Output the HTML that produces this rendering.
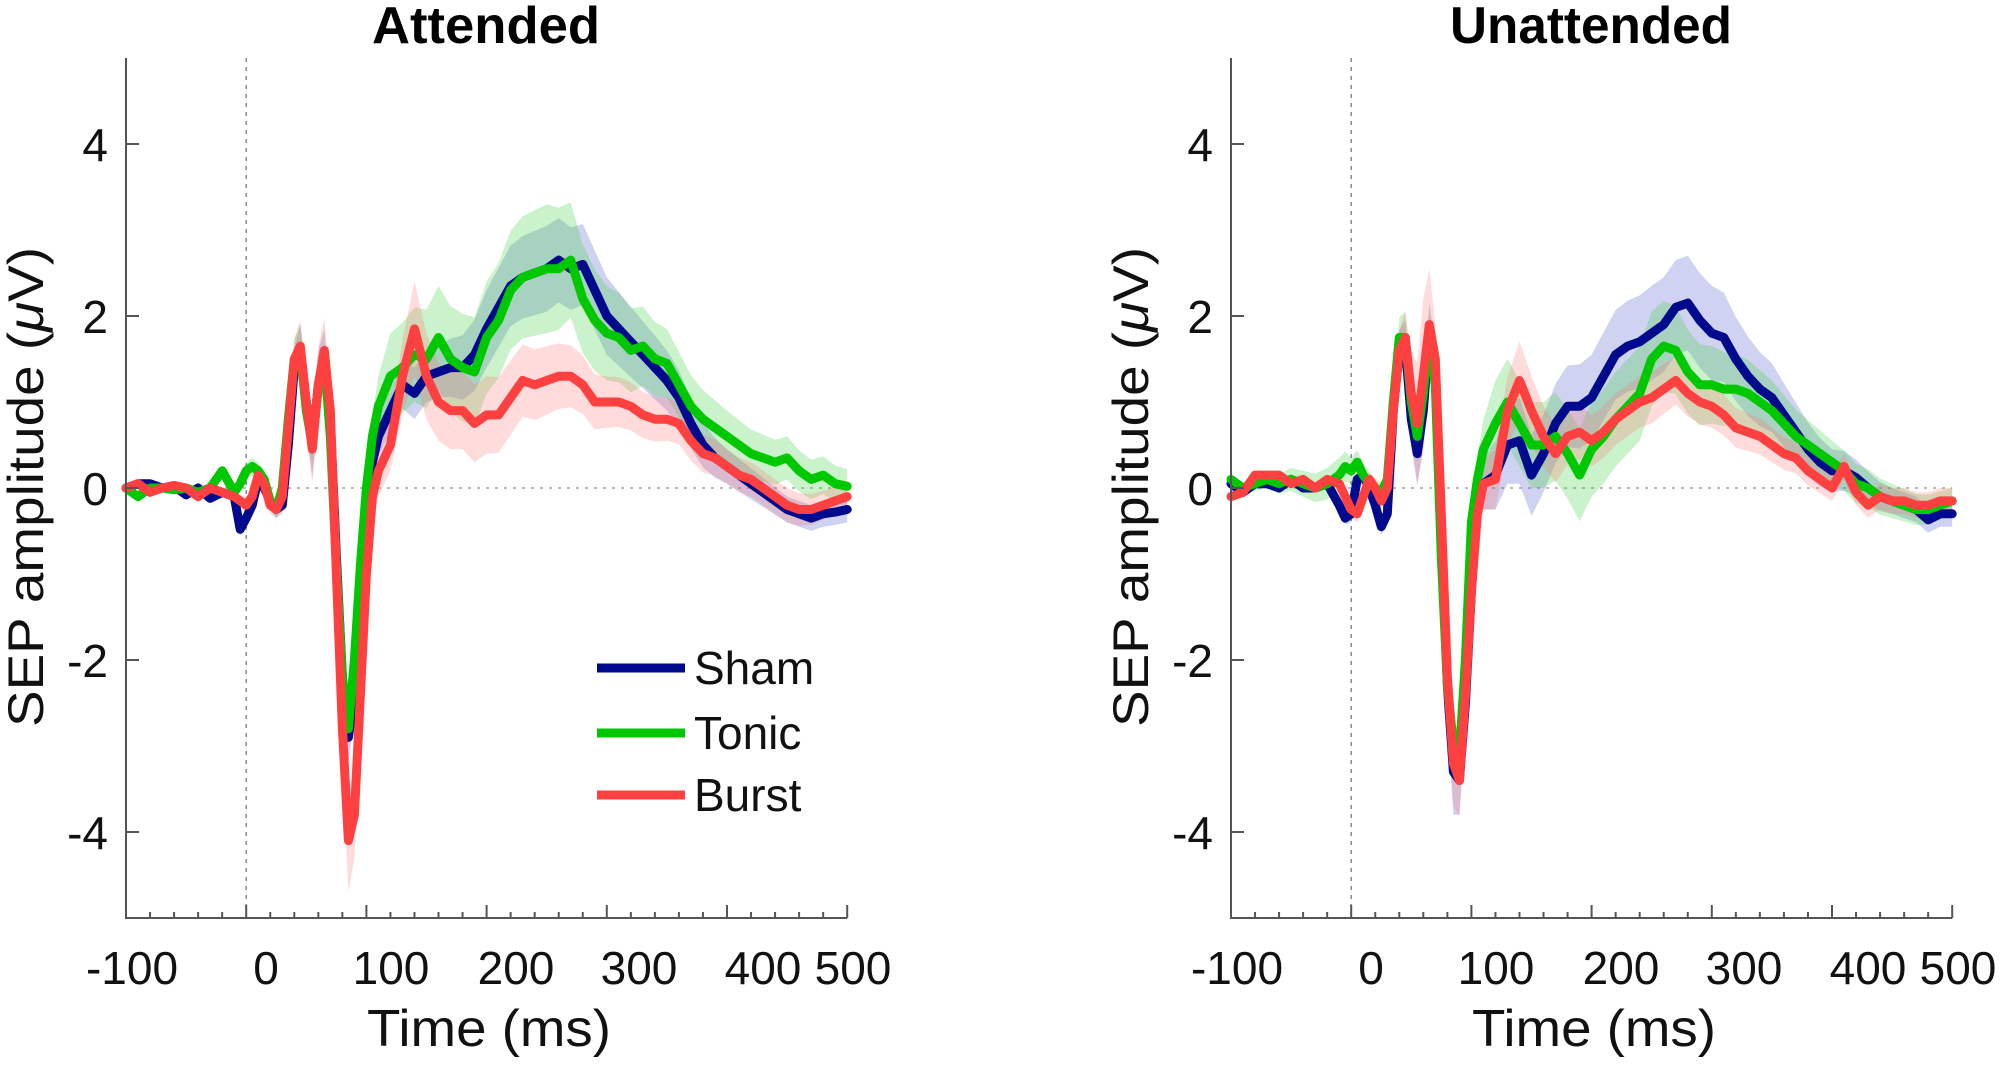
<!DOCTYPE html>
<html><head><meta charset="utf-8">
<style>
html,body{margin:0;padding:0;background:#fff;}
svg{display:block;font-family:"Liberation Sans",Arial,sans-serif;}
</style></head>
<body>
<svg id="fig" width="2008" height="1075" viewBox="0 0 2008 1075" xmlns="http://www.w3.org/2000/svg"></svg>
<script>
// ---------- DATA ----------
const times = [-100,-90,-80,-70,-60,-50,-40,-30,-20,-10,
  -5,0,5,10,15,20,25,30,35,40,45,50,55,60,65,70,75,80,85,90,95,100,105,110,
  120,130,140,150,160,170,180,190,200,210,220,230,240,250,260,270,280,290,300,310,
  320,330,340,350,360,370,380,390,400,410,420,430,440,450,460,470,480,490,500];
const xTickLabels = ["-100","0","100","200","300","400","500"];
const yTickValues = [4,2,0,-2,-4];
const seriesNames = ["Sham","Tonic","Burst"];

const attSham = [0,0.05,0.05,0,0.02,-0.08,0,-0.12,-0.05,-0.1,
  -0.48,-0.35,-0.2,0.1,0,-0.15,-0.25,-0.2,0.5,1.4,1.6,1.0,0.5,1.2,1.55,0.8,-0.8,-2.2,-2.9,-2.4,-1.2,-0.3,0.3,0.6,
  0.9,1.2,1.1,1.3,1.35,1.4,1.4,1.55,1.85,2.1,
  2.35,2.45,2.5,2.55,2.65,2.55,2.6,2.3,2.0,1.85,
  1.7,1.55,1.4,1.25,1.05,0.75,0.5,0.35,0.25,0.15,
  0.05,-0.05,-0.15,-0.25,-0.3,-0.35,-0.3,-0.28,-0.25];
const attTonic = [0,-0.1,0,0,-0.02,0,-0.05,0,0.2,-0.05,
  0.05,0.2,0.25,0.2,0.1,-0.15,-0.25,0,0.8,1.5,1.6,0.9,0.5,1.2,1.5,0.6,-0.9,-2.2,-2.8,-2.0,-0.9,0,0.6,0.95,
  1.3,1.4,1.55,1.5,1.75,1.5,1.4,1.35,1.75,1.95,
  2.3,2.45,2.5,2.55,2.55,2.65,2.2,1.95,1.8,1.75,
  1.6,1.65,1.5,1.45,1.2,0.95,0.8,0.7,0.6,0.5,
  0.4,0.35,0.3,0.35,0.2,0.1,0.15,0.05,0.02];
const attBurst = [0,0.05,-0.05,0,0.03,0,-0.1,0,-0.05,-0.1,
  -0.15,-0.2,-0.1,0.15,0.05,-0.2,-0.25,-0.1,0.7,1.5,1.65,1.0,0.45,1.2,1.6,0.9,-1.0,-2.8,-4.1,-3.8,-2.4,-1.0,-0.1,0.2,
  0.5,1.3,1.85,1.3,1.0,0.9,0.9,0.75,0.85,0.85,
  1.05,1.25,1.2,1.25,1.3,1.3,1.2,1.0,1.0,1.0,
  0.95,0.85,0.8,0.8,0.75,0.55,0.4,0.35,0.25,0.15,
  0.1,0,-0.1,-0.2,-0.25,-0.25,-0.2,-0.15,-0.1];

const unaSham = [0.05,-0.05,0.05,0.05,0,0.1,0,0,0.05,-0.2,
  -0.35,-0.3,0.1,0.15,0,-0.2,-0.45,-0.3,0.9,1.6,1.65,0.8,0.4,0.9,1.8,1.4,-0.5,-2.3,-3.3,-3.4,-2.5,-1.2,-0.2,0.05,
  0.15,0.5,0.55,0.15,0.4,0.75,0.95,0.95,1.05,1.3,
  1.55,1.65,1.7,1.8,1.9,2.1,2.15,1.95,1.8,1.75,
  1.5,1.3,1.15,1.05,0.85,0.65,0.45,0.3,0.2,0.2,
  0.12,0,-0.1,-0.15,-0.2,-0.25,-0.37,-0.3,-0.3];
const unaTonic = [0.1,0,0.05,0.1,0.05,0.1,0.05,0,0.05,0.15,
  0.25,0.2,0.3,0.15,0.05,0,-0.05,0.1,1.0,1.75,1.75,1.0,0.6,1.1,1.8,1.2,-0.8,-2.3,-3.0,-3.1,-2.0,-0.4,0.1,0.45,
  0.75,1.0,0.75,0.5,0.5,0.6,0.4,0.15,0.45,0.6,
  0.8,0.95,1.1,1.5,1.65,1.6,1.35,1.2,1.2,1.15,
  1.15,1.1,1.0,0.9,0.75,0.6,0.5,0.4,0.3,0.2,
  0.05,0,-0.1,-0.15,-0.2,-0.25,-0.25,-0.2,-0.15];
const unaBurst = [-0.1,-0.05,0.15,0.15,0.15,0.05,0.1,0,0.1,0.05,
  -0.1,-0.25,-0.3,-0.1,0.1,0,-0.15,0,0.9,1.6,1.75,1.1,0.75,1.3,1.9,1.5,-0.3,-2.2,-3.2,-3.4,-2.4,-1.2,-0.3,0.05,
  0.1,0.9,1.25,0.9,0.6,0.4,0.6,0.65,0.55,0.65,
  0.8,0.9,1.0,1.05,1.15,1.25,1.1,1.0,0.95,0.85,
  0.7,0.65,0.6,0.5,0.4,0.35,0.2,0.1,0,0.25,
  -0.05,-0.2,-0.1,-0.15,-0.15,-0.2,-0.2,-0.15,-0.15];

// confidence band half-widths (µV), sampled at bandTimes
const bandTimes = [-100,-10,0,30,45,60,70,85,100,120,140,160,200,250,300,350,400,450,500];
const attShamBand  = [0.05,0.05,0.1,0.1,0.3,0.4,0.2,0.3,0.2,0.25,0.3,0.3,0.45,0.5,0.45,0.35,0.2,0.15,0.15];
const attTonicBand = [0.05,0.05,0.1,0.1,0.3,0.2,0.2,0.2,0.2,0.5,0.55,0.6,0.65,0.75,0.55,0.4,0.3,0.25,0.2];
const attBurstBand = [0.05,0.05,0.1,0.1,0.3,0.45,0.3,0.6,0.3,0.3,0.55,0.45,0.45,0.4,0.3,0.25,0.2,0.2,0.15];
const unaShamBand  = [0.05,0.05,0.1,0.1,0.3,0.4,0.3,0.5,0.2,0.4,0.5,0.45,0.5,0.55,0.55,0.4,0.25,0.15,0.15];
const unaTonicBand = [0.05,0.2,0.15,0.1,0.3,0.3,0.2,0.3,0.2,0.5,0.5,0.5,0.55,0.55,0.45,0.35,0.25,0.2,0.15];
const unaBurstBand = [0.05,0.05,0.1,0.1,0.3,0.9,0.4,0.5,0.25,0.35,0.45,0.35,0.3,0.3,0.25,0.2,0.15,0.15,0.15];

// ---------- RENDER ----------
const NS = "http://www.w3.org/2000/svg";
const svg = document.getElementById('fig');
const colors = ["#000a8c","#00c800","#ff4040"];
const fills = ["#4050c8","#30d030","#ff7070"];
function mk(tag, attrs, parent){ const e=document.createElementNS(NS,tag); for(const k in attrs) e.setAttribute(k,attrs[k]); (parent||svg).appendChild(e); return e; }
function bandAt(t, arr){
  for(let i=0;i<bandTimes.length-1;i++){
    if(t>=bandTimes[i]&&t<=bandTimes[i+1]){const f=(t-bandTimes[i])/(bandTimes[i+1]-bandTimes[i]);return arr[i]+(arr[i+1]-arr[i])*f;}
  }
  return arr[arr.length-1];
}
const Y0 = 488, PXU = 86, PXMS = 1.202;
const yScale = v => Y0 - v*PXU;

function panel(ox, title, data, bands, showLegend, key, titleLen){
  const xScale = t => ox + (t+100)*PXMS;
  const g = mk('g',{});
  
  
  const zl = mk('line',{x1:xScale(-100),x2:xScale(500),y1:yScale(0),y2:yScale(0),stroke:"#bbb","stroke-width":2,"stroke-dasharray":"3 6"},g);
   
  const sl = mk('line',{x1:xScale(0),x2:xScale(0),y1:58,y2:918,stroke:"#888","stroke-width":1.5,"stroke-dasharray":"4 5"},g);
   
  data.forEach((s,si)=>{
    const up=[],dn=[];
    times.forEach((t,i)=>{const w=bandAt(t,bands[si]);up.push(xScale(t).toFixed(1)+','+yScale(s[i]+w).toFixed(1));dn.push(xScale(t).toFixed(1)+','+yScale(s[i]-w).toFixed(1));});
    const p = mk('polygon',{points:up.concat(dn.reverse()).join(' '),fill:fills[si],"fill-opacity":0.25,stroke:"none"},g);
    
    
  });
  data.forEach((s,si)=>{
    const d = times.map((t,i)=>(i?'L':'M')+xScale(t).toFixed(1)+','+yScale(s[i]).toFixed(1)).join(' ');
    const p = mk('path',{d:d,fill:"none",stroke:colors[si],"stroke-width":9,"stroke-linejoin":"round","stroke-linecap":"round"},g);
    
    
  });
  const ax = mk('path',{d:`M${ox},58 L${ox},918 L${xScale(500)},918`,fill:"none",stroke:"#555","stroke-width":2},g);
   
  for(let t=-80;t<=500;t+=20){
    const major = t%100===0;
    const tk = mk('line',{x1:xScale(t),x2:xScale(t),y1:918,y2:918-(major?13:6),stroke:"#555","stroke-width":2},g);
     
  }
  const labelX = [132,266,391,516,639,763,853];
  xTickLabels.forEach((lab,i)=>{
    const tx = mk('text',{x:labelX[i]-126+ox,y:984,"text-anchor":"middle","font-size":46,fill:"#111"},g);
    tx.textContent = lab;
     
  });
  yTickValues.forEach(v=>{
    const tk = mk('line',{x1:ox,x2:ox+13,y1:yScale(v),y2:yScale(v),stroke:"#555","stroke-width":2},g);
     
    const tx = mk('text',{x:ox-18,y:yScale(v)+17,"text-anchor":"end","font-size":46,fill:"#111"},g);
    tx.textContent = String(v);
     
  });
  const tt = mk('text',{x:ox+360,y:43,"text-anchor":"middle","font-size":52,"font-weight":"bold",fill:"#000",textLength:titleLen,lengthAdjust:"spacingAndGlyphs"},g);
  tt.textContent = title;
   
  const xt = mk('text',{x:ox+363,y:1046,"text-anchor":"middle","font-size":52,fill:"#111",textLength:244,lengthAdjust:"spacingAndGlyphs"},g);
  xt.textContent = "Time (ms)";
   
  const yt = mk('text',{x:0,y:0,"text-anchor":"middle","font-size":50,fill:"#111",textLength:480,lengthAdjust:"spacingAndGlyphs",transform:`translate(${ox-83},487) rotate(-90)`},g);
  yt.innerHTML = 'SEP amplitude (<tspan font-style="italic">μ</tspan>V)';
   
  if(showLegend){
    const lg = mk('g',{},g);
     
    const rows=[668,733,795];
    seriesNames.forEach((n,i)=>{
      const e = mk('g',{},lg);
       
      mk('line',{x1:597,x2:685,y1:rows[i],y2:rows[i],stroke:colors[i],"stroke-width":9},e);
      const tx = mk('text',{x:694,y:rows[i]+16,"font-size":46,fill:"#111"},e);
      tx.textContent = n;
    });
  }
}
panel(126,"Attended",[attSham,attTonic,attBurst],[attShamBand,attTonicBand,attBurstBand],true,'attended',228);
panel(1231,"Unattended",[unaSham,unaTonic,unaBurst],[unaShamBand,unaTonicBand,unaBurstBand],false,'unattended',282);
</script>
</body></html>
